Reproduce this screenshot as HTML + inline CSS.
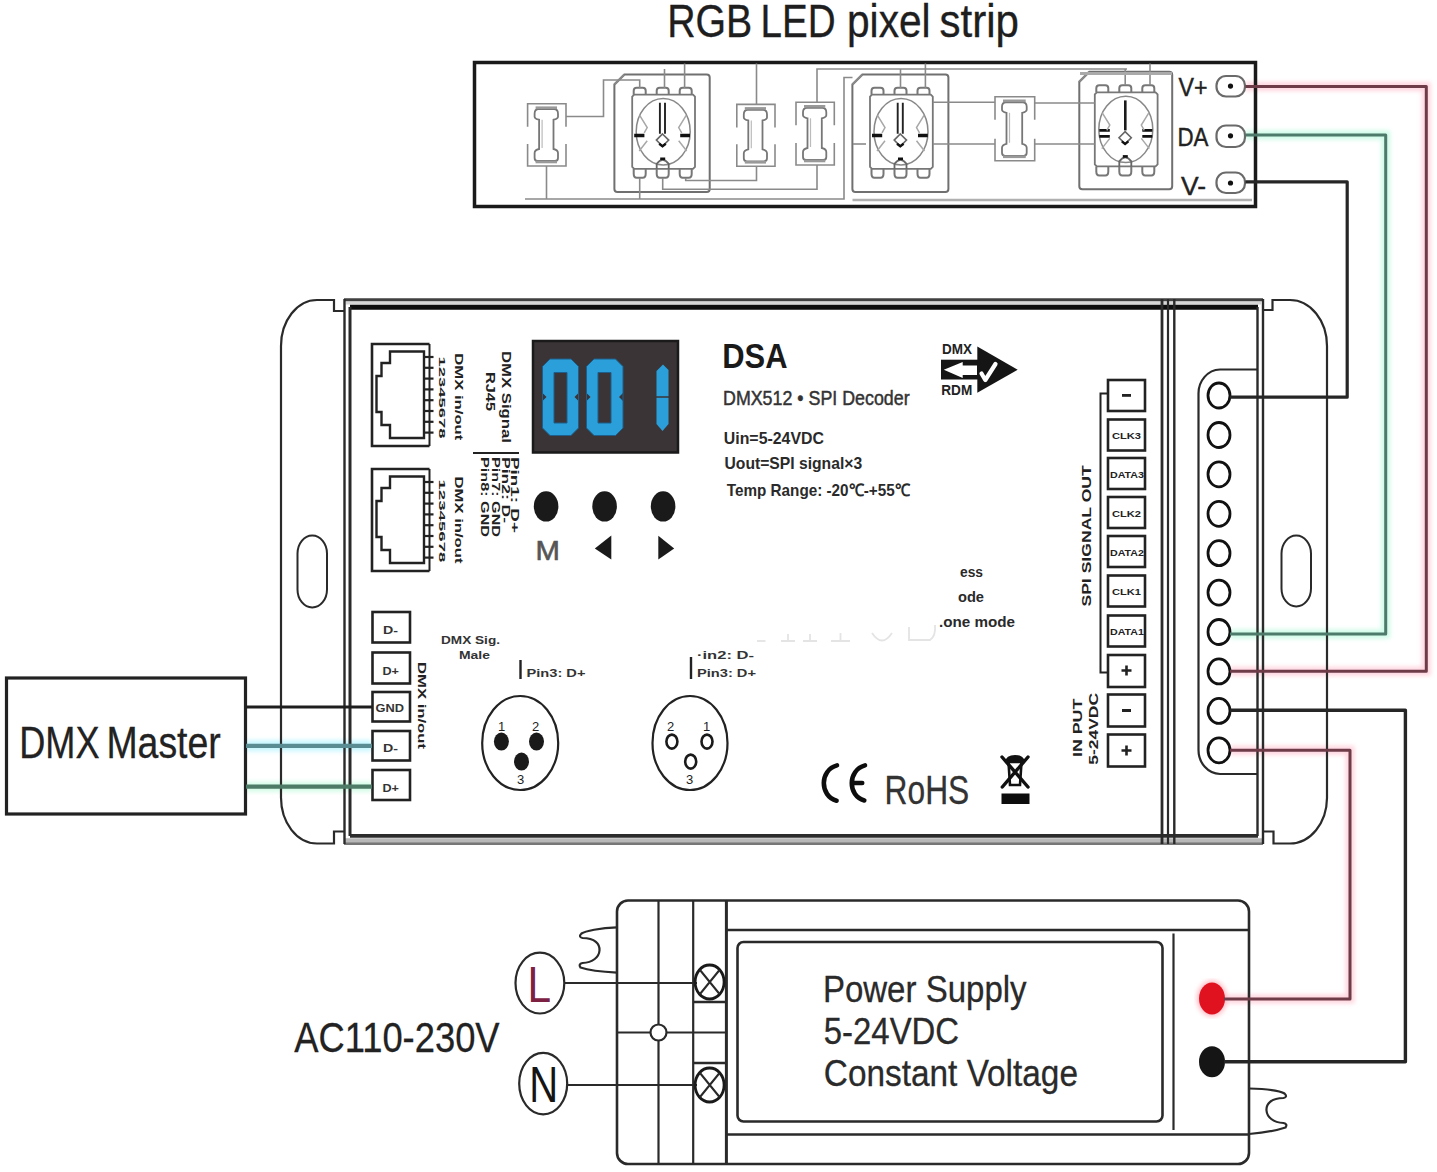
<!DOCTYPE html>
<html><head><meta charset="utf-8">
<style>
html,body{margin:0;padding:0;background:#fff;width:1437px;height:1172px;overflow:hidden}
svg{display:block}
text{font-family:"Liberation Sans",sans-serif}
</style></head><body>
<svg width="1437" height="1172" viewBox="0 0 1437 1172">
<rect x="0" y="0" width="1437" height="1172" fill="#fff"/>
<defs><filter id="soft" x="-5%" y="-5%" width="110%" height="110%"><feGaussianBlur stdDeviation="2.2"/></filter></defs>
<g id="halos" fill="none" filter="url(#soft)">
<path d="M1245.5 86.5 L1426.3 86.5 L1426.3 671.2 L1230 671.2" stroke="#ffd6e0" stroke-width="9"/>
<path d="M1245.5 135 L1385.7 135 L1385.7 634 L1230 634" stroke="#cffbe8" stroke-width="9"/>
<path d="M1230 750.2 L1350 750.2 L1350 999 L1224 999" stroke="#ffd6e0" stroke-width="9"/>
<line x1="246" y1="745.8" x2="372" y2="745.8" stroke="#c6f6ff" stroke-width="11"/>
<line x1="246" y1="786.7" x2="372" y2="786.7" stroke="#d2fbe6" stroke-width="10"/>
</g>

<!-- ===== TITLE ===== -->
<g font-size="46" fill="#1e1e1e" stroke="#1e1e1e" stroke-width="0.35">
<text x="667.2" y="37.3" textLength="85.1" lengthAdjust="spacingAndGlyphs">RGB</text>
<text x="760.5" y="37.3" textLength="75.1" lengthAdjust="spacingAndGlyphs">LED</text>
<text x="847.0" y="37.3" textLength="83.6" lengthAdjust="spacingAndGlyphs">pixel</text>
<text x="939.6" y="37.3" textLength="79.4" lengthAdjust="spacingAndGlyphs">strip</text>
</g>

<!-- ===== LED STRIP ===== -->
<g id="strip">
<rect x="474.5" y="62.5" width="781" height="144" fill="none" stroke="#1a1a1a" stroke-width="3.5"/>
<g id="stripinner" fill="none" stroke="#8a8a8a" stroke-width="1.6">
<path d="M527.6 126.7 L527.6 103.7 L566 103.7 L566 126.7"/>
<path d="M527.6 144 L527.6 166 L566 166 L566 144"/>
<path d="M534.6 113.7 Q534.6 109.2 538.6 109.2 L554 109.2 Q558 109.2 558 113.7 L558 116.7 Q558 118.7 553.5 119.7 L553.5 149 Q558 150 558 153 L558 158 Q558 161 555 161 L537.6 161 Q534.6 161 534.6 158 L534.6 153 Q534.6 150 539.1 149 L539.1 119.7 Q534.6 118.7 534.6 116.7 Z" stroke="#777" stroke-width="1.8"/>
<path d="M542.1 119.7 L542.1 148" stroke="#bbb" stroke-width="1.2"/>
<path d="M535.6 107.7 L557 107.7" stroke="#999" stroke-width="2.6"/>
<path d="M535.6 162 L557 162" stroke="#999" stroke-width="2.6"/>
<path d="M736.8 127.4 L736.8 104.4 L775 104.4 L775 127.4"/>
<path d="M736.8 144.3 L736.8 166.3 L775 166.3 L775 144.3"/>
<path d="M743.8 114.4 Q743.8 109.9 747.8 109.9 L763 109.9 Q767 109.9 767 114.4 L767 117.4 Q767 119.4 762.5 120.4 L762.5 149.3 Q767 150.3 767 153.3 L767 158.3 Q767 161.3 764 161.3 L746.8 161.3 Q743.8 161.3 743.8 158.3 L743.8 153.3 Q743.8 150.3 748.3 149.3 L748.3 120.4 Q743.8 119.4 743.8 117.4 Z" stroke="#777" stroke-width="1.8"/>
<path d="M751.3 120.4 L751.3 148.3" stroke="#bbb" stroke-width="1.2"/>
<path d="M744.8 108.4 L766 108.4" stroke="#999" stroke-width="2.6"/>
<path d="M744.8 162.3 L766 162.3" stroke="#999" stroke-width="2.6"/>
<path d="M796 125.3 L796 102.3 L834.3 102.3 L834.3 125.3"/>
<path d="M796 143 L796 165 L834.3 165 L834.3 143"/>
<path d="M803 112.3 Q803 107.8 807 107.8 L822.3 107.8 Q826.3 107.8 826.3 112.3 L826.3 115.3 Q826.3 117.3 821.8 118.3 L821.8 148 Q826.3 149 826.3 152 L826.3 157 Q826.3 160 823.3 160 L806 160 Q803 160 803 157 L803 152 Q803 149 807.5 148 L807.5 118.3 Q803 117.3 803 115.3 Z" stroke="#777" stroke-width="1.8"/>
<path d="M810.5 118.3 L810.5 147" stroke="#bbb" stroke-width="1.2"/>
<path d="M804 106.3 L825.3 106.3" stroke="#999" stroke-width="2.6"/>
<path d="M804 161 L825.3 161" stroke="#999" stroke-width="2.6"/>
<path d="M995 119.8 L995 96.8 L1034.7 96.8 L1034.7 119.8"/>
<path d="M995 138.8 L995 160.8 L1034.7 160.8 L1034.7 138.8"/>
<path d="M1002 106.8 Q1002 102.3 1006 102.3 L1022.7 102.3 Q1026.7 102.3 1026.7 106.8 L1026.7 109.8 Q1026.7 111.8 1022.2 112.8 L1022.2 143.8 Q1026.7 144.8 1026.7 147.8 L1026.7 152.8 Q1026.7 155.8 1023.7 155.8 L1005 155.8 Q1002 155.8 1002 152.8 L1002 147.8 Q1002 144.8 1006.5 143.8 L1006.5 112.8 Q1002 111.8 1002 109.8 Z" stroke="#777" stroke-width="1.8"/>
<path d="M1009.5 112.8 L1009.5 142.8" stroke="#bbb" stroke-width="1.2"/>
<path d="M1003 100.8 L1025.7 100.8" stroke="#999" stroke-width="2.6"/>
<path d="M1003 156.8 L1025.7 156.8" stroke="#999" stroke-width="2.6"/>
<path d="M624.4 74.5 L706.7 74.5 Q709.7 74.5 709.7 77.5 L709.7 189 Q709.7 192 706.7 192 L617.4 192 Q614.4 192 614.4 189 L614.4 84.5 Z" stroke="#707070" stroke-width="2"/>
<path d="M614.4 84.5 L624.4 74.5" stroke-width="2.2"/>
<path d="M632.2 96.7 L634.2 94.7 L693.0 94.7 L695.0 96.7 L695.0 166.8 L693.0 168.8 L634.2 168.8 L632.2 166.8 Z" stroke="#777" stroke-width="1.8"/>
<path d="M633.7 94.7 L633.7 90.7 Q633.7 87.7 636.7 87.7 L642.7 87.7 Q645.7 87.7 645.7 90.7 L645.7 94.7" stroke="#777" stroke-width="2"/>
<path d="M633.7 168.8 L633.7 173.8 Q633.7 177.8 636.7 177.8 L642.7 177.8 Q645.7 177.8 645.7 173.8 L645.7 168.8" stroke="#777" stroke-width="2"/>
<path d="M656.7 94.7 L656.7 90.7 Q656.7 87.7 659.7 87.7 L665.7 87.7 Q668.7 87.7 668.7 90.7 L668.7 94.7" stroke="#777" stroke-width="2"/>
<path d="M656.7 168.8 L656.7 173.8 Q656.7 177.8 659.7 177.8 L665.7 177.8 Q668.7 177.8 668.7 173.8 L668.7 168.8" stroke="#777" stroke-width="2"/>
<path d="M679.7 94.7 L679.7 90.7 Q679.7 87.7 682.7 87.7 L688.7 87.7 Q691.7 87.7 691.7 90.7 L691.7 94.7" stroke="#777" stroke-width="2"/>
<path d="M679.7 168.8 L679.7 173.8 Q679.7 177.8 682.7 177.8 L688.7 177.8 Q691.7 177.8 691.7 173.8 L691.7 168.8" stroke="#777" stroke-width="2"/>
<ellipse cx="663.2" cy="131.8" rx="27" ry="33.2" stroke="#888" stroke-width="1.5"/>
<path d="M659.9000000000001 102.80000000000001 L659.9000000000001 133.8 M665.0 102.80000000000001 L665.0 133.8" stroke="#222" stroke-width="1.9"/>
<path d="M662.5 134.0 L668.7 140.10000000000002 L662.5 146.3 L656.4000000000001 140.10000000000002 Z" stroke="#666" stroke-width="1.6" fill="#fff"/>
<path d="M659.2 143.8 L662.5 146.3 L665.8000000000001 143.8" stroke="#111" stroke-width="2.4"/>
<path d="M634.2 135.5 L644.4000000000001 135.5 M680.2 135.5 L690.0 135.5" stroke="#111" stroke-width="3.6"/>
<path d="M639.7 115.30000000000001 L647.2 127.50000000000001 L644.2 132.8 M647.2 140.8 L639.2 151.0" stroke="#a8a8a8" stroke-width="1.5"/>
<path d="M686.2 115.30000000000001 L678.7 127.50000000000001 L681.7 132.8 M678.7 140.8 L686.7 151.0" stroke="#a8a8a8" stroke-width="1.5"/>
<path d="M656.7 168.8 L656.7 163.8 Q662.7 155.8 668.7 163.8 L668.7 168.8" stroke="#666" stroke-width="1.8"/>
<path d="M660.2 158.8 L665.2 158.8" stroke="#111" stroke-width="2.6"/>
<path d="M862.4 74.5 L945.4 74.5 Q948.4 74.5 948.4 77.5 L948.4 189 Q948.4 192 945.4 192 L855.4 192 Q852.4 192 852.4 189 L852.4 84.5 Z" stroke="#707070" stroke-width="2"/>
<path d="M852.4 84.5 L862.4 74.5" stroke-width="2.2"/>
<path d="M870 96.7 L872 94.7 L930.8 94.7 L932.8 96.7 L932.8 166.8 L930.8 168.8 L872 168.8 L870 166.8 Z" stroke="#777" stroke-width="1.8"/>
<path d="M871.5 94.7 L871.5 90.7 Q871.5 87.7 874.5 87.7 L880.5 87.7 Q883.5 87.7 883.5 90.7 L883.5 94.7" stroke="#777" stroke-width="2"/>
<path d="M871.5 168.8 L871.5 173.8 Q871.5 177.8 874.5 177.8 L880.5 177.8 Q883.5 177.8 883.5 173.8 L883.5 168.8" stroke="#777" stroke-width="2"/>
<path d="M894.5 94.7 L894.5 90.7 Q894.5 87.7 897.5 87.7 L903.5 87.7 Q906.5 87.7 906.5 90.7 L906.5 94.7" stroke="#777" stroke-width="2"/>
<path d="M894.5 168.8 L894.5 173.8 Q894.5 177.8 897.5 177.8 L903.5 177.8 Q906.5 177.8 906.5 173.8 L906.5 168.8" stroke="#777" stroke-width="2"/>
<path d="M917.5 94.7 L917.5 90.7 Q917.5 87.7 920.5 87.7 L926.5 87.7 Q929.5 87.7 929.5 90.7 L929.5 94.7" stroke="#777" stroke-width="2"/>
<path d="M917.5 168.8 L917.5 173.8 Q917.5 177.8 920.5 177.8 L926.5 177.8 Q929.5 177.8 929.5 173.8 L929.5 168.8" stroke="#777" stroke-width="2"/>
<ellipse cx="901" cy="131.8" rx="27" ry="33.2" stroke="#888" stroke-width="1.5"/>
<path d="M897.7 102.80000000000001 L897.7 133.8 M902.8 102.80000000000001 L902.8 133.8" stroke="#222" stroke-width="1.9"/>
<path d="M900.3 134.0 L906.5 140.10000000000002 L900.3 146.3 L894.2 140.10000000000002 Z" stroke="#666" stroke-width="1.6" fill="#fff"/>
<path d="M897 143.8 L900.3 146.3 L903.6 143.8" stroke="#111" stroke-width="2.4"/>
<path d="M872 135.5 L882.2 135.5 M918 135.5 L927.8 135.5" stroke="#111" stroke-width="3.6"/>
<path d="M877.5 115.30000000000001 L885 127.50000000000001 L882 132.8 M885 140.8 L877 151.0" stroke="#a8a8a8" stroke-width="1.5"/>
<path d="M924 115.30000000000001 L916.5 127.50000000000001 L919.5 132.8 M916.5 140.8 L924.5 151.0" stroke="#a8a8a8" stroke-width="1.5"/>
<path d="M894.5 168.8 L894.5 163.8 Q900.5 155.8 906.5 163.8 L906.5 168.8" stroke="#666" stroke-width="1.8"/>
<path d="M898 158.8 L903 158.8" stroke="#111" stroke-width="2.6"/>
<path d="M1089.3 71.7 L1169.2 71.7 Q1172.2 71.7 1172.2 74.7 L1172.2 186.3 Q1172.2 189.3 1169.2 189.3 L1082.3 189.3 Q1079.3 189.3 1079.3 186.3 L1079.3 81.7 Z" stroke="#707070" stroke-width="2"/>
<path d="M1079.3 81.7 L1089.3 71.7" stroke-width="2.2"/>
<path d="M1094.8 94.3 L1096.8 92.3 L1155.6 92.3 L1157.6 94.3 L1157.6 164.4 L1155.6 166.4 L1096.8 166.4 L1094.8 164.4 Z" stroke="#777" stroke-width="1.8"/>
<path d="M1096.3 92.3 L1096.3 88.3 Q1096.3 85.3 1099.3 85.3 L1105.3 85.3 Q1108.3 85.3 1108.3 88.3 L1108.3 92.3" stroke="#777" stroke-width="2"/>
<path d="M1096.3 166.4 L1096.3 171.4 Q1096.3 175.4 1099.3 175.4 L1105.3 175.4 Q1108.3 175.4 1108.3 171.4 L1108.3 166.4" stroke="#777" stroke-width="2"/>
<path d="M1119.3 92.3 L1119.3 88.3 Q1119.3 85.3 1122.3 85.3 L1128.3 85.3 Q1131.3 85.3 1131.3 88.3 L1131.3 92.3" stroke="#777" stroke-width="2"/>
<path d="M1119.3 166.4 L1119.3 171.4 Q1119.3 175.4 1122.3 175.4 L1128.3 175.4 Q1131.3 175.4 1131.3 171.4 L1131.3 166.4" stroke="#777" stroke-width="2"/>
<path d="M1142.3 92.3 L1142.3 88.3 Q1142.3 85.3 1145.3 85.3 L1151.3 85.3 Q1154.3 85.3 1154.3 88.3 L1154.3 92.3" stroke="#777" stroke-width="2"/>
<path d="M1142.3 166.4 L1142.3 171.4 Q1142.3 175.4 1145.3 175.4 L1151.3 175.4 Q1154.3 175.4 1154.3 171.4 L1154.3 166.4" stroke="#777" stroke-width="2"/>
<ellipse cx="1125.8" cy="129.4" rx="27" ry="33.2" stroke="#888" stroke-width="1.5"/>
<path d="M1125.3 100.4 L1125.3 130.4" stroke="#1a1a1a" stroke-width="2.6"/>
<path d="M1125.1 131.6 L1131.3 137.70000000000002 L1125.1 143.9 L1119.0 137.70000000000002 Z" stroke="#666" stroke-width="1.6" fill="#fff"/>
<path d="M1121.8 141.4 L1125.1 143.9 L1128.3999999999999 141.4" stroke="#111" stroke-width="2.4"/>
<path d="M1099.3 130.4 L1109.8 130.4 M1099.3 136.4 L1109.8 136.4 M1142.3 130.4 L1152.3 130.4 M1142.3 136.4 L1152.3 136.4" stroke="#111" stroke-width="2.6"/>
<path d="M1102.3 112.9 L1109.8 125.10000000000001 L1106.8 130.4 M1109.8 138.4 L1101.8 148.6" stroke="#a8a8a8" stroke-width="1.5"/>
<path d="M1148.8 112.9 L1141.3 125.10000000000001 L1144.3 130.4 M1141.3 138.4 L1149.3 148.6" stroke="#a8a8a8" stroke-width="1.5"/>
<path d="M1119.3 166.4 L1119.3 161.4 Q1125.3 153.4 1131.3 161.4 L1131.3 166.4" stroke="#666" stroke-width="1.8"/>
<path d="M1122.8 156.4 L1127.8 156.4" stroke="#111" stroke-width="2.6"/>

<path d="M566 116.5 L603.5 116.5 L603.5 80 L639.7 80 L639.7 88"/>
<path d="M546.5 166 L546.5 199"/>
<path d="M525 199 L844 199 L844 77.5 L852.5 77.5"/>
<path d="M852.5 200 L1252 200" stroke="#b0b0b0" stroke-width="2.4"/>
<path d="M639.7 178 L639.7 199"/>
<path d="M662.7 178 L662.7 189.3 L817 189.3 L817 165"/>
<path d="M685.7 178 L685.7 180.5 L756.5 180.5 L756.5 166"/>
<path d="M756.5 104.4 L756.5 63.5"/>
<path d="M664.5 88 L664.5 69"/>
<path d="M684.6 88 L684.6 63.5"/>
<path d="M817 102.3 L817 69 L1127 69"/>
<path d="M900.5 88 L900.5 69"/>
<path d="M925.4 88 L925.4 63.5"/>
<path d="M1125.2 85 L1125.2 69"/>
<path d="M1150 85 L1150 63.5"/>
<path d="M1080 73.5 L1172 73.5" stroke="#aaa" stroke-width="3"/>
<path d="M932.8 102.3 L995 102.3"/>
<path d="M932.8 144 L995 144"/>
<path d="M1034.7 103 L1094.8 103"/>
<path d="M1034.7 144 L1094.8 144"/>
<path d="M853 144 L866 144"/>
</g>

<g font-size="26" fill="#222" stroke="#222" stroke-width="0.4">
<text x="1178.5" y="95.5" textLength="29" lengthAdjust="spacingAndGlyphs">V+</text>
<text x="1177.5" y="145.5" textLength="31" lengthAdjust="spacingAndGlyphs">DA</text>
<text x="1181" y="195.4" textLength="25" lengthAdjust="spacingAndGlyphs">V-</text>
</g>
<g fill="none" stroke="#6a6a6a" stroke-width="2.2">
<rect x="1216.5" y="76" width="28.5" height="20.5" rx="9.5"/>
<rect x="1216.5" y="125.5" width="28.5" height="21.5" rx="9.5"/>
<rect x="1216.5" y="172.5" width="28.5" height="20.5" rx="9.5"/>
</g>
<g fill="#111">
<circle cx="1230.5" cy="86.1" r="2.6"/>
<circle cx="1230.5" cy="135.8" r="2.6"/>
<circle cx="1230.5" cy="183" r="2.6"/>
</g>

</g>

<!-- ===== CONTROLLER ===== -->

<g id="ctrl" fill="none" stroke="#2a2a2a">
<!-- left bracket -->
<path d="M344 311 L334 311 L334 300 L317 300 A36 46 0 0 0 281 346 L281 797 A36 46 0 0 0 317 843.5 L334 843.5 L334 831.5 L344 831.5" stroke-width="2.2"/>
<!-- right bracket -->
<path d="M1263 310 L1272.5 310 L1272.5 300 L1290 300 A37 46 0 0 1 1327 346 L1327 798 A37 46 0 0 1 1290 843.5 L1273.5 843.5 L1273.5 831.5 L1263 831.5" stroke-width="2.2"/>
<!-- slots -->
<rect x="297.5" y="535.5" width="29.5" height="72" rx="14.7" ry="18" stroke-width="2"/>
<rect x="1281.5" y="535.5" width="29.5" height="71" rx="14.7" ry="18" stroke-width="2"/>
<!-- body top -->
<line x1="346" y1="303" x2="1261" y2="303" stroke-width="3" stroke="#d6d6d6"/>
<line x1="344" y1="299.8" x2="1263" y2="299.8" stroke-width="3" stroke="#404040"/>
<line x1="350" y1="307.3" x2="1258" y2="307.3" stroke-width="5" stroke="#0d0d0d"/>
<!-- body bottom -->
<line x1="344" y1="840.3" x2="1263" y2="840.3" stroke-width="4" stroke="#b8b8b8"/>
<line x1="344" y1="843.6" x2="1263" y2="843.6" stroke-width="2.6" stroke="#777"/>
<line x1="350" y1="835.9" x2="1258" y2="835.9" stroke-width="3.8" stroke="#2c2c2c"/>
<!-- body left verticals -->
<line x1="344.5" y1="299" x2="344.5" y2="844" stroke-width="2.4"/>
<line x1="350" y1="307" x2="350" y2="836" stroke-width="3"/>
<!-- right verticals -->
<line x1="1162" y1="299" x2="1162" y2="844" stroke-width="2.8"/>
<line x1="1168" y1="299" x2="1168" y2="844" stroke-width="2.2"/>
<line x1="1174.3" y1="299" x2="1174.3" y2="844" stroke-width="2.4"/>
<line x1="1257.5" y1="307" x2="1257.5" y2="836" stroke-width="2.4"/>
<line x1="1263" y1="299" x2="1263" y2="844" stroke-width="2.4"/>
<!-- terminal block -->
<path d="M1257.5 369.5 L1220 369.5 A22 24 0 0 0 1198.5 394 L1198.5 750 A22 24 0 0 0 1220 774 L1257.5 774" stroke-width="2.2"/>
<g stroke-width="2.8" stroke="#111">
<ellipse cx="1219" cy="395.5" rx="11" ry="12.5"/>
<ellipse cx="1219" cy="435" rx="11" ry="12.5"/>
<ellipse cx="1219" cy="474.3" rx="11" ry="12.5"/>
<ellipse cx="1219" cy="513.8" rx="11" ry="12.5"/>
<ellipse cx="1219" cy="553.2" rx="11" ry="12.5"/>
<ellipse cx="1219" cy="592.6" rx="11" ry="12.5"/>
<ellipse cx="1219" cy="632" rx="11" ry="12.5"/>
<ellipse cx="1219" cy="671.4" rx="11" ry="12.5"/>
<ellipse cx="1219" cy="710.9" rx="11" ry="12.5"/>
<ellipse cx="1219" cy="750.3" rx="11" ry="12.5"/>
</g>
</g>
<g id="ctrlcontent">
<g fill="none" stroke="#222">
<path d="M429.5 344 L372 344 L372 446 L429.5 446" stroke-width="2.6"/>
<line x1="429.5" y1="344" x2="429.5" y2="446" stroke-width="2"/>
<path d="M424 351.5 L390 351.5 L390 363 L381.5 363 L381.5 376 L376.5 376 L376.5 412 L381.5 412 L381.5 425 L390 425 L390 438 L424 438 Z" stroke-width="2.4"/>
<line x1="424" y1="357.0" x2="433.5" y2="357.0" stroke-width="2.2"/>
<line x1="424" y1="367.8" x2="433.5" y2="367.8" stroke-width="2.2"/>
<line x1="424" y1="378.6" x2="433.5" y2="378.6" stroke-width="2.2"/>
<line x1="424" y1="389.4" x2="433.5" y2="389.4" stroke-width="2.2"/>
<line x1="424" y1="400.2" x2="433.5" y2="400.2" stroke-width="2.2"/>
<line x1="424" y1="411.0" x2="433.5" y2="411.0" stroke-width="2.2"/>
<line x1="424" y1="421.8" x2="433.5" y2="421.8" stroke-width="2.2"/>
<line x1="424" y1="432.6" x2="433.5" y2="432.6" stroke-width="2.2"/>
<path d="M429.5 469 L372 469 L372 571 L429.5 571" stroke-width="2.6"/>
<line x1="429.5" y1="469" x2="429.5" y2="571" stroke-width="2"/>
<path d="M424 476.5 L390 476.5 L390 488 L381.5 488 L381.5 501 L376.5 501 L376.5 537 L381.5 537 L381.5 550 L390 550 L390 563 L424 563 Z" stroke-width="2.4"/>
<line x1="424" y1="482.0" x2="433.5" y2="482.0" stroke-width="2.2"/>
<line x1="424" y1="492.8" x2="433.5" y2="492.8" stroke-width="2.2"/>
<line x1="424" y1="503.6" x2="433.5" y2="503.6" stroke-width="2.2"/>
<line x1="424" y1="514.4" x2="433.5" y2="514.4" stroke-width="2.2"/>
<line x1="424" y1="525.2" x2="433.5" y2="525.2" stroke-width="2.2"/>
<line x1="424" y1="536.0" x2="433.5" y2="536.0" stroke-width="2.2"/>
<line x1="424" y1="546.8" x2="433.5" y2="546.8" stroke-width="2.2"/>
<line x1="424" y1="557.6" x2="433.5" y2="557.6" stroke-width="2.2"/>
</g>
<g fill="#222" font-weight="bold">
<text transform="translate(438.5,356.5) rotate(90)" font-size="9.5" textLength="82" lengthAdjust="spacingAndGlyphs">12345678</text>
<text transform="translate(454.5,353.3) rotate(90)" font-size="11" textLength="87" lengthAdjust="spacingAndGlyphs">DMX in/out</text>
<text transform="translate(438.5,479.5) rotate(90)" font-size="9.5" textLength="83" lengthAdjust="spacingAndGlyphs">12345678</text>
<text transform="translate(454.5,476.5) rotate(90)" font-size="11" textLength="87" lengthAdjust="spacingAndGlyphs">DMX in/out</text>
<text transform="translate(501.5,351) rotate(90)" font-size="12.5" textLength="92" lengthAdjust="spacingAndGlyphs">DMX Signal</text>
<text transform="translate(486,372) rotate(90)" font-size="12.5" textLength="39" lengthAdjust="spacingAndGlyphs">RJ45</text>
<text transform="translate(511,457) rotate(90)" font-size="10" textLength="76" lengthAdjust="spacingAndGlyphs">Pin1: D+</text>
<text transform="translate(501.5,457) rotate(90)" font-size="10" textLength="66" lengthAdjust="spacingAndGlyphs">Pin2: D-</text>
<text transform="translate(491.5,457) rotate(90)" font-size="10" textLength="80" lengthAdjust="spacingAndGlyphs">Pin7: GND</text>
<text transform="translate(481.2,457) rotate(90)" font-size="10" textLength="80" lengthAdjust="spacingAndGlyphs">Pin8: GND</text>
</g>
<line x1="473" y1="453" x2="519" y2="453" stroke="#222" stroke-width="2"/>

<!-- display -->
<rect x="533" y="341" width="145" height="111.5" fill="#3a3436" stroke="#1a1a1a" stroke-width="2.5"/>
<g fill="#2b9fd9">
<path fill-rule="evenodd" d="M550 359 L571 359 L578.5 366.5 L578.5 428 L571 435.5 L550 435.5 L542.5 428 L542.5 366.5 Z M554 372.5 L554 423 L567 423 L567 372.5 Z"/>
<path fill-rule="evenodd" d="M594 359 L615.5 359 L623 366.5 L623 428 L615.5 435.5 L594 435.5 L586.5 428 L586.5 366.5 Z M598 372.5 L598 423 L611 423 L611 372.5 Z"/>
<path d="M656.5 371 L663 364.5 L668.5 370 L668.5 396.2 L656.5 396.2 Z"/>
<path d="M656.5 397.8 L668.5 397.8 L668.5 424 L662.5 431 L656.5 424 Z"/>
</g>
<g fill="#3a3436">
<path d="M541.5 392 L546.5 397 L541.5 402 Z"/><path d="M579.5 392 L574.5 397 L579.5 402 Z"/>
<path d="M585.5 392 L590.5 397 L585.5 402 Z"/><path d="M624 392 L619 397 L624 402 Z"/>
</g>
<g fill="none" stroke="#1d5f8a" stroke-width="1">
<path d="M550 359 L571 359 L578.5 366.5 L578.5 428 L571 435.5 L550 435.5 L542.5 428 L542.5 366.5 Z M554 372.5 L554 423 L567 423 L567 372.5 Z"/>
<path d="M594 359 L615.5 359 L623 366.5 L623 428 L615.5 435.5 L594 435.5 L586.5 428 L586.5 366.5 Z M598 372.5 L598 423 L611 423 L611 372.5 Z"/>
</g>
<!-- buttons -->
<g fill="#1a1a1a">
<ellipse cx="546.1" cy="506.4" rx="12.3" ry="15.2"/>
<ellipse cx="604.6" cy="506.4" rx="12.3" ry="15.2"/>
<ellipse cx="663.1" cy="506.4" rx="12.3" ry="15.2"/>
<path d="M611.3 535.5 L611.3 559.5 L594.8 548.5 Z"/>
<path d="M658.3 535.8 L658.3 559.5 L674.2 548.5 Z"/>
</g>
<text x="535.6" y="559.7" font-size="27" fill="#555" stroke="#555" stroke-width="0.6" textLength="24.4" lengthAdjust="spacingAndGlyphs">M</text>

<!-- DSA + specs -->
<text x="722.2" y="368.4" font-size="35" font-weight="bold" fill="#1a1a1a" textLength="65.3" lengthAdjust="spacingAndGlyphs">DSA</text>
<text x="723" y="404.6" font-size="21" fill="#333" stroke="#333" stroke-width="0.5" textLength="186.6" lengthAdjust="spacingAndGlyphs">DMX512 • SPI Decoder</text>
<g font-size="17" font-weight="bold" fill="#2a2a2a">
<text x="723.8" y="443.7" textLength="100.1" lengthAdjust="spacingAndGlyphs">Uin=5-24VDC</text>
<text x="724.5" y="468.5" textLength="137.6" lengthAdjust="spacingAndGlyphs">Uout=SPI signal×3</text>
<text x="726.8" y="495.8" textLength="183.2" lengthAdjust="spacingAndGlyphs">Temp Range: -20℃-+55℃</text>
</g>

<!-- DMX/RDM logo -->
<g fill="#151515">
<text x="942" y="354.2" font-size="14.5" font-weight="bold" textLength="30" lengthAdjust="spacingAndGlyphs" fill="#222">DMX</text>
<text x="941.3" y="394.8" font-size="14.5" font-weight="bold" textLength="31" lengthAdjust="spacingAndGlyphs" fill="#222">RDM</text>
<path d="M977.3 346.5 L1017.7 369.8 L977.3 392.8 Z"/>
<rect x="941" y="359.7" width="37" height="19.8"/>
</g>
<path d="M943.8 369.8 L962.7 362 L962.7 365.6 L977 365.6 L977 375 L962.7 375 L962.7 378 Z" fill="#fff"/>
<path d="M981.5 373.5 L985.3 380 L995.5 364" fill="none" stroke="#fff" stroke-width="4.2" stroke-linecap="round" stroke-linejoin="round"/>

<!-- faint middle text -->
<g font-size="14" font-weight="bold" fill="#2a2a2a">
<text x="960" y="577" textLength="23" lengthAdjust="spacingAndGlyphs">ess</text>
<text x="958" y="602" textLength="26" lengthAdjust="spacingAndGlyphs">ode</text>
<text x="939" y="627" textLength="76" lengthAdjust="spacingAndGlyphs">.one mode</text>
</g>

<g fill="none" stroke="#e4e4e4" stroke-width="1.8">
<path d="M757 641 L765.5 641"/>
<path d="M781 641 L795 641 M788 634 L788 641"/>
<path d="M803 641 L817 641 M810 634 L810 641"/>
<path d="M831 641 L850 641 M840.5 633 L840.5 641"/>
<path d="M872 633 Q882 648 892 633"/>
<path d="M909 627 L909 640 L930 640 Q936 636 935 625"/>
</g>
<!-- SPI output boxes -->
<g fill="none" stroke="#222" stroke-width="2.6">
<rect x="1108" y="380" width="37" height="31"/>
<rect x="1108" y="419.5" width="37" height="31"/>
<rect x="1108" y="458" width="37" height="31"/>
<rect x="1108" y="497" width="37" height="31"/>
<rect x="1108" y="536" width="37" height="31"/>
<rect x="1108" y="575.5" width="37" height="31"/>
<rect x="1108" y="615.5" width="37" height="31"/>
<rect x="1108" y="655" width="37" height="32"/>
<rect x="1108" y="694.5" width="37" height="32"/>
<rect x="1108" y="734.5" width="37" height="32"/>
<path d="M1108 393.5 L1100.5 393.5 L1100.5 672.5 L1108 672.5" stroke-width="2"/>
</g>
<g fill="#222" font-size="9.5" font-weight="bold">
<rect x="1122" y="394" width="9" height="2.8"/>
<text x="1112" y="439" textLength="29" lengthAdjust="spacingAndGlyphs">CLK3</text>
<text x="1110" y="478" textLength="34" lengthAdjust="spacingAndGlyphs">DATA3</text>
<text x="1112" y="516.5" textLength="29" lengthAdjust="spacingAndGlyphs">CLK2</text>
<text x="1110" y="556" textLength="34" lengthAdjust="spacingAndGlyphs">DATA2</text>
<text x="1112" y="595" textLength="29" lengthAdjust="spacingAndGlyphs">CLK1</text>
<text x="1110" y="635" textLength="34" lengthAdjust="spacingAndGlyphs">DATA1</text>
<path d="M1121.5 670.5 L1131.5 670.5 M1126.5 665.5 L1126.5 675.5" stroke="#222" stroke-width="2.6"/>
<rect x="1122" y="709" width="9" height="3"/>
<path d="M1121.5 750.5 L1131.5 750.5 M1126.5 745.5 L1126.5 755.5" stroke="#222" stroke-width="2.6"/>
</g>
<g fill="#222" font-weight="bold">
<text transform="translate(1091.2,606.6) rotate(-90)" font-size="13" textLength="141.4" lengthAdjust="spacingAndGlyphs">SPI SIGNAL OUT</text>
<text transform="translate(1081.8,757) rotate(-90)" font-size="13" textLength="58.3" lengthAdjust="spacingAndGlyphs">IN PUT</text>
<text transform="translate(1097.6,764.8) rotate(-90)" font-size="13" textLength="71.8" lengthAdjust="spacingAndGlyphs">5-24VDC</text>
</g>

<!-- DMX terminal boxes -->
<g fill="none" stroke="#222" stroke-width="2.6">
<rect x="372.5" y="612" width="37.5" height="30.5"/>
<rect x="372.5" y="652.5" width="37.5" height="31"/>
<rect x="372.5" y="692" width="37.5" height="29.5"/>
<rect x="372.5" y="731" width="37.5" height="29.5"/>
<rect x="372.5" y="770" width="37.5" height="30"/>
</g>
<g fill="#333" font-size="11" font-weight="bold">
<text x="383" y="634" textLength="15" lengthAdjust="spacingAndGlyphs">D-</text>
<text x="382.5" y="674.5" textLength="16.5" lengthAdjust="spacingAndGlyphs">D+</text>
<text x="375.5" y="712.2" textLength="28.5" lengthAdjust="spacingAndGlyphs">GND</text>
<text x="383" y="752" textLength="15" lengthAdjust="spacingAndGlyphs">D-</text>
<text x="382.5" y="791.5" textLength="16.5" lengthAdjust="spacingAndGlyphs">D+</text>
</g>
<text transform="translate(418.3,662) rotate(90)" font-size="11" font-weight="bold" fill="#222" textLength="87" lengthAdjust="spacingAndGlyphs">DMX in/out</text>

<!-- XLR -->
<g fill="#333" font-size="11" font-weight="bold">
<text x="441" y="644" textLength="59" lengthAdjust="spacingAndGlyphs">DMX Sig.</text>
<text x="459" y="659" textLength="31" lengthAdjust="spacingAndGlyphs">Male</text>
<text x="526.5" y="676.5" textLength="59" lengthAdjust="spacingAndGlyphs">Pin3: D+</text>
<text x="697" y="659" textLength="57" lengthAdjust="spacingAndGlyphs">·in2: D-</text>
<text x="697" y="676.5" textLength="59" lengthAdjust="spacingAndGlyphs">Pin3: D+</text>
</g>
<g stroke="#222" stroke-width="2.4">
<line x1="520.5" y1="660" x2="520.5" y2="679"/>
<line x1="691" y1="657" x2="691" y2="679"/>
</g>
<g fill="none" stroke="#222" stroke-width="2.2">
<ellipse cx="520.2" cy="743" rx="38" ry="47"/>
<ellipse cx="690" cy="743" rx="37.5" ry="47"/>
</g>
<g fill="#1a1a1a">
<ellipse cx="501.4" cy="741.6" rx="7.5" ry="9"/>
<ellipse cx="536.5" cy="741.6" rx="7.5" ry="9"/>
<ellipse cx="521.5" cy="761.6" rx="7.5" ry="9"/>
</g>
<g fill="none" stroke="#1a1a1a" stroke-width="2.6">
<ellipse cx="671.9" cy="741.6" rx="5.5" ry="7"/>
<ellipse cx="707" cy="741.6" rx="5.5" ry="7"/>
<ellipse cx="690.7" cy="761.6" rx="5.5" ry="7"/>
</g>
<g fill="#222" font-size="13">
<text x="498" y="731">1</text>
<text x="532" y="731">2</text>
<text x="517" y="784">3</text>
<text x="667" y="731">2</text>
<text x="703" y="731">1</text>
<text x="686" y="784">3</text>
</g>

<!-- CE RoHS WEEE -->
<g fill="none" stroke="#0d0d0d" stroke-width="4.6" stroke-linecap="round">
<path d="M837 765.4 C819.5 770 819.5 796 836.6 800.7"/>
<path d="M865 765.4 C847.5 770 847.5 796 864.3 800.4"/>
<path d="M852.5 783 L862.2 783"/>
</g>
<text x="884.6" y="804.3" font-size="40" fill="#333" stroke="#333" stroke-width="0.3" textLength="84.7" lengthAdjust="spacingAndGlyphs">RoHS</text>
<g fill="none" stroke="#111" stroke-width="3.4" stroke-linecap="round">
<path d="M1002 757 L1028 787 M1028 757 L1002.3 787"/>
</g>
<path d="M1005 762 Q1006 755 1015 755 Q1024 755 1025 762 Z" fill="#111"/>
<path d="M1008.5 762 L1021.5 762 L1020 785 L1010 785 Z" fill="none" stroke="#111" stroke-width="2.6"/>
<rect x="1001.5" y="793.5" width="28" height="10.5" fill="#0d0d0d"/>
</g>


<!-- ===== DMX MASTER ===== -->
<rect x="6.5" y="678" width="239" height="136" fill="none" stroke="#222" stroke-width="3.2"/>
<text x="19.2" y="757.5" font-size="44" fill="#222" textLength="80.3" lengthAdjust="spacingAndGlyphs" stroke="#222" stroke-width="0.3">DMX</text>
<text x="106.4" y="757.5" font-size="44" fill="#222" textLength="114.4" lengthAdjust="spacingAndGlyphs" stroke="#222" stroke-width="0.3">Master</text>

<!-- ===== POWER SUPPLY ===== -->

<g id="psu" fill="none" stroke="#2a2a2a" stroke-width="2.2">
<rect x="617" y="900.5" width="632" height="263.5" rx="11" ry="11" stroke-width="2.6"/>
<line x1="658.5" y1="900.5" x2="658.5" y2="1164"/>
<line x1="693.2" y1="900.5" x2="693.2" y2="1164"/>
<line x1="726.4" y1="900.5" x2="726.4" y2="1164" stroke-width="3"/>
<line x1="726.4" y1="930" x2="1249" y2="930" stroke-width="2.6"/>
<line x1="726.4" y1="1134.5" x2="1249" y2="1134.5" stroke-width="2.6"/>
<rect x="737.5" y="942" width="425" height="179.5" rx="6" stroke-width="2.6"/>
<line x1="1173.5" y1="933.5" x2="1173.5" y2="1130"/>
<line x1="617" y1="1032.5" x2="726.4" y2="1032.5"/>
<circle cx="658.5" cy="1032.5" r="8" fill="#fff"/>
<line x1="564.3" y1="983" x2="697" y2="983"/>
<line x1="567.2" y1="1085" x2="697" y2="1085"/>
<line x1="693.2" y1="1002" x2="726.4" y2="1002" stroke-width="2.6"/>
<line x1="693.2" y1="1063" x2="726.4" y2="1063" stroke-width="2.6"/>
<g stroke-width="2.8" stroke="#1a1a1a">
<ellipse cx="709.6" cy="982" rx="14.5" ry="17"/>
<ellipse cx="709.6" cy="1085" rx="14.5" ry="17"/>
</g>
<path d="M700 970 L719.5 994 M719.5 970 L700 994 M700 1073 L719.5 1097 M719.5 1073 L700 1097" stroke-width="2"/>
<path d="M617 927.3 C600 928 585 931 581.5 933.5 Q578 937 582.5 938 C595 938 600 944 599.5 950.5 C599 957 593 962.5 582.5 963 Q578 964 580.5 967.5 C588 970 605 972 617 972.7"/>
<path d="M1249 1088.5 C1266 1089 1281 1091 1284.5 1093.5 Q1288 1097 1283.5 1098 C1271 1098 1266 1104 1266.5 1110.5 C1267 1117 1273 1122.5 1283.5 1123 Q1288 1124 1285.5 1127.5 C1278 1130 1261 1133 1249 1134"/>
<ellipse cx="539.9" cy="983.1" rx="24.4" ry="30.4" stroke-width="2.2"/>
<ellipse cx="543.2" cy="1083.6" rx="24" ry="30.7" stroke-width="2.2"/>
</g>
<ellipse cx="1212" cy="998.5" rx="15.5" ry="18.5" fill="#ffc4cc" filter="url(#soft)"/>
<ellipse cx="1212" cy="998.5" rx="13" ry="16" fill="#e0121f"/>
<ellipse cx="1212" cy="1061.8" rx="13" ry="15.5" fill="#151515"/>
<text x="822.9" y="1001.5" font-size="36.5" fill="#2a2a2a" stroke="#2a2a2a" stroke-width="0.3" textLength="203.7" lengthAdjust="spacingAndGlyphs">Power Supply</text>
<text x="823.8" y="1043.5" font-size="36.5" fill="#2a2a2a" stroke="#2a2a2a" stroke-width="0.3" textLength="135.3" lengthAdjust="spacingAndGlyphs">5-24VDC</text>
<text x="823.8" y="1085.5" font-size="36.5" fill="#2a2a2a" stroke="#2a2a2a" stroke-width="0.3" textLength="254.2" lengthAdjust="spacingAndGlyphs">Constant Voltage</text>
<text x="294.2" y="1051.8" font-size="42" fill="#222" stroke="#222" stroke-width="0.3" textLength="205.4" lengthAdjust="spacingAndGlyphs">AC110-230V</text>
<text x="527.5" y="1001.7" font-size="50" fill="#7d2142" textLength="23.6" lengthAdjust="spacingAndGlyphs">L</text>
<text x="529.2" y="1101.9" font-size="50" fill="#151515" textLength="28.9" lengthAdjust="spacingAndGlyphs">N</text>


<!-- ===== WIRES ===== -->

<g id="wires" fill="none" stroke-width="3" stroke-linejoin="round">
<!-- red V+ -->
<path d="M1245.5 86.5 L1426.3 86.5 L1426.3 671.2 L1230 671.2" stroke="#6e3b49" stroke-width="3"/>
<!-- green DA -->
<path d="M1245.5 135 L1385.7 135 L1385.7 634 L1230 634" stroke="#4d7a6a" stroke-width="3"/>
<!-- black V- -->
<path d="M1245.5 181.8 L1347.2 181.8 L1347.2 397.2 L1230 397.2" stroke="#262626" stroke-width="3.2"/>
<!-- black to PSU -->
<path d="M1230 710.3 L1405.4 710.3 L1405.4 1061.8 L1224 1061.8" stroke="#262626" stroke-width="3.4"/>
<!-- red to PSU -->
<path d="M1230 750.2 L1350 750.2 L1350 999 L1224 999" stroke="#6e3b49" stroke-width="3"/>
<!-- DMX master wires -->
<line x1="246" y1="707" x2="372" y2="707" stroke="#1e1e1e" stroke-width="3"/>
<line x1="246" y1="745.8" x2="372" y2="745.8" stroke="#5a8d93" stroke-width="4.2"/>
<line x1="246" y1="786.7" x2="372" y2="786.7" stroke="#4d7b67" stroke-width="4.2"/>
</g>


</svg>
</body></html>
